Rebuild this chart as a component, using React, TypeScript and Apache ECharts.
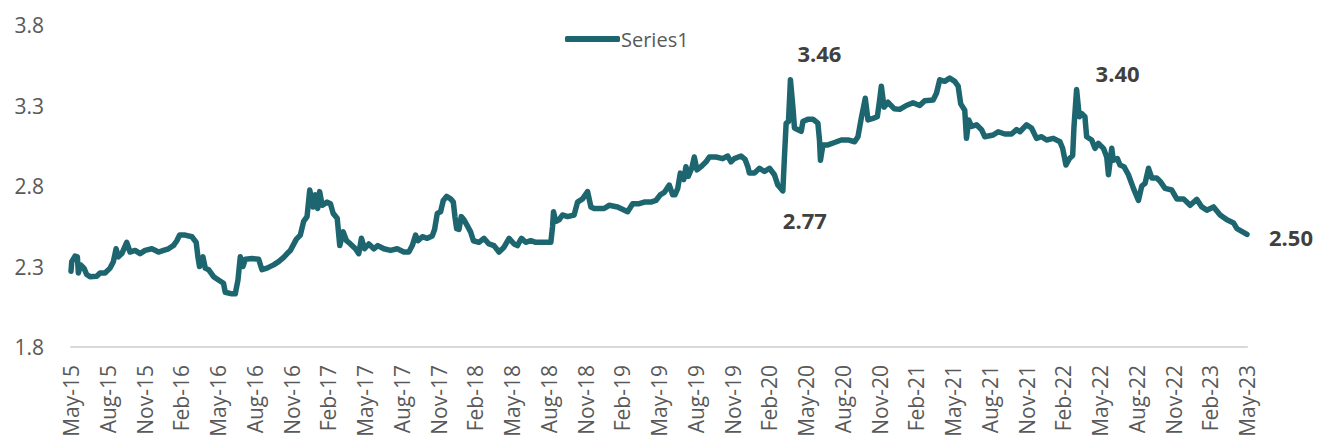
import React, { useEffect, useRef } from "react";
import * as echarts from "echarts";

// x = months since May-15, y = value
const seg2015: [number, number][] = [
  [0, 2.27], [0.06, 2.33], [0.33, 2.365], [0.52, 2.36], [0.6, 2.26], [0.79, 2.31], [1.06, 2.29], [1.28, 2.25],
  [1.55, 2.237], [2.1, 2.24], [2.37, 2.26], [2.78, 2.26], [3.19, 2.29], [3.46, 2.33], [3.68, 2.41], [3.87, 2.36],
  [4.15, 2.38], [4.55, 2.45], [4.82, 2.39], [5.23, 2.4], [5.64, 2.38], [6.05, 2.4], [6.6, 2.41], [7.14, 2.39],
  [7.55, 2.4], [7.96, 2.41],
];
const seg2016: [number, number][] = [
  [8.36, 2.43], [8.64, 2.46], [8.86, 2.495], [9.32, 2.495], [9.87, 2.485], [10.22, 2.45], [10.36, 2.36], [10.49, 2.3],
  [10.77, 2.36], [10.96, 2.29], [11.23, 2.28], [11.64, 2.237], [12.04, 2.216], [12.45, 2.196], [12.59, 2.14], [13.14, 2.13],
  [13.41, 2.13], [13.63, 2.216], [13.82, 2.36], [14.04, 2.3], [14.23, 2.345], [14.78, 2.35], [15.32, 2.345], [15.59, 2.28],
  [16.0, 2.29], [16.54, 2.31], [16.95, 2.33], [17.36, 2.357], [17.77, 2.39], [17.91, 2.4], [18.4, 2.47], [18.72, 2.495],
  [18.99, 2.58], [19.27, 2.61], [19.49, 2.775], [19.76, 2.67], [19.95, 2.745],
];
const seg2017: [number, number][] = [
  [20.14, 2.66], [20.3, 2.765], [20.5, 2.68], [20.91, 2.7], [21.18, 2.69], [21.4, 2.63], [21.73, 2.6], [21.94, 2.43],
  [22.22, 2.515], [22.49, 2.46], [22.81, 2.44], [23.22, 2.41], [23.49, 2.38], [23.71, 2.475], [23.96, 2.41], [24.31, 2.44],
  [24.72, 2.41], [25.04, 2.43], [25.54, 2.41], [26.08, 2.4], [26.63, 2.41], [27.17, 2.39], [27.58, 2.39], [27.86, 2.43],
  [28.13, 2.495], [28.32, 2.46], [28.68, 2.485], [29.08, 2.475], [29.49, 2.49], [29.68, 2.53], [29.9, 2.63], [30.17, 2.64],
  [30.39, 2.71], [30.66, 2.735], [30.99, 2.72], [31.21, 2.7], [31.34, 2.61], [31.48, 2.535], [31.67, 2.53], [31.86, 2.61],
];
const seg2018: [number, number][] = [
  [32.08, 2.59], [32.3, 2.56], [32.62, 2.515], [32.85, 2.46], [33.3, 2.45], [33.71, 2.475], [34.12, 2.44], [34.53, 2.43],
  [34.94, 2.39], [35.35, 2.42], [35.76, 2.475], [36.17, 2.44], [36.44, 2.43], [36.77, 2.475], [37.12, 2.45], [37.53, 2.46],
  [37.94, 2.45], [38.49, 2.45], [39.17, 2.45], [39.31, 2.547], [39.39, 2.64], [39.57, 2.58], [39.84, 2.59], [40.12, 2.62],
  [40.53, 2.61], [41.07, 2.62], [41.35, 2.7], [41.76, 2.72], [42.17, 2.765], [42.44, 2.67], [42.71, 2.66], [43.12, 2.66],
  [43.52, 2.66], [43.93, 2.68],
];
const seg2019: [number, number][] = [
  [44.62, 2.67], [45.44, 2.64], [45.85, 2.69], [46.39, 2.69], [46.8, 2.7], [47.34, 2.7], [47.75, 2.71], [48.1, 2.745],
  [48.43, 2.76], [48.84, 2.806], [49.12, 2.745], [49.3, 2.745], [49.53, 2.785], [49.74, 2.88], [50.02, 2.84], [50.2, 2.92],
  [50.39, 2.86], [50.67, 2.91], [50.88, 2.98], [51.1, 2.9], [51.43, 2.92], [51.84, 2.95], [52.11, 2.98], [52.66, 2.98],
  [53.2, 2.97], [53.61, 2.986], [53.88, 2.95], [54.15, 2.97], [54.7, 2.986], [55.03, 2.965], [55.25, 2.92], [55.38, 2.88],
  [55.79, 2.88],
];
const seg2020: [number, number][] = [
  [56.2, 2.91], [56.61, 2.89], [57.02, 2.91], [57.42, 2.87], [57.7, 2.806], [58.11, 2.77], [58.24, 2.98], [58.38, 3.19],
  [58.57, 3.2], [58.73, 3.46], [58.93, 3.29], [59.06, 3.16], [59.34, 3.15], [59.61, 3.14], [59.75, 3.2], [60.16, 3.215],
  [60.56, 3.215], [60.97, 3.19], [61.1, 3.086], [61.18, 2.96], [61.38, 3.055], [61.79, 3.055], [62.33, 3.07], [62.88, 3.086],
  [63.43, 3.086], [63.97, 3.075], [64.24, 3.106], [64.51, 3.22], [64.84, 3.345], [65.06, 3.21], [65.47, 3.22], [65.82, 3.23],
  [66.01, 3.334], [66.15, 3.42], [66.37, 3.29], [66.7, 3.32], [67.19, 3.28], [67.65, 3.276],
];
const seg2021: [number, number][] = [
  [68.19, 3.3], [68.74, 3.317], [69.28, 3.3], [69.69, 3.33], [70.38, 3.334], [70.65, 3.376], [70.92, 3.46], [71.32, 3.45],
  [71.73, 3.47], [72.14, 3.45], [72.42, 3.42], [72.63, 3.31], [72.96, 3.27], [73.1, 3.096], [73.29, 3.21], [73.51, 3.17],
  [73.92, 3.18], [74.33, 3.15], [74.59, 3.106], [75.28, 3.117], [75.69, 3.137], [76.23, 3.123], [76.78, 3.123], [77.19, 3.15],
  [77.46, 3.137], [78.0, 3.18], [78.41, 3.16], [78.82, 3.096], [79.23, 3.106], [79.64, 3.086],
];
const seg2022: [number, number][] = [
  [80.19, 3.096], [80.73, 3.075], [80.95, 3.034], [81.22, 2.93], [81.5, 2.97], [81.77, 2.99], [81.87, 3.16], [82.09, 3.4],
  [82.31, 3.23], [82.5, 3.25], [82.77, 3.23], [82.91, 3.106], [83.32, 3.086], [83.59, 3.034], [83.87, 3.065], [84.28, 3.034],
  [84.55, 2.98], [84.69, 2.87], [84.96, 3.034], [85.09, 2.96], [85.42, 2.97], [85.63, 2.93], [85.96, 2.92], [86.32, 2.87],
  [86.73, 2.785], [87.14, 2.71], [87.41, 2.8], [87.68, 2.817], [87.96, 2.91], [88.23, 2.85], [88.63, 2.85], [88.9, 2.83],
  [89.31, 2.785], [89.86, 2.775], [90.27, 2.72], [90.82, 2.72], [91.36, 2.68], [91.9, 2.717],
];
const seg2023: [number, number][] = [
  [92.31, 2.67], [92.72, 2.65], [93.27, 2.67], [93.81, 2.62], [94.36, 2.59], [94.91, 2.57], [95.18, 2.535], [96.0, 2.5],
];

const tickLabels = [
  "May-15", "Aug-15", "Nov-15", "Feb-16", "May-16", "Aug-16", "Nov-16", "Feb-17", "May-17", "Aug-17", "Nov-17",
  "Feb-18", "May-18", "Aug-18", "Nov-18", "Feb-19", "May-19", "Aug-19", "Nov-19", "Feb-20", "May-20", "Aug-20",
  "Nov-20", "Feb-21", "May-21", "Aug-21", "Nov-21", "Feb-22", "May-22", "Aug-22", "Nov-22", "Feb-23", "May-23",
];
const yTicks = [1.8, 2.3, 2.8, 3.3, 3.8];

// annotated points: [month, value]
const annotations: [number, number][] = [
  [58.73, 3.46],
  [58.11, 2.77],
  [82.09, 3.4],
  [96.0, 2.5],
];
const annotationOffsets: [number, number][] = [
  [29, -27],
  [22, 29],
  [41, -16],
  [44, 3],
];

const seriesData = [
  ...seg2015, ...seg2016, ...seg2017, ...seg2018, ...seg2019, ...seg2020, ...seg2021, ...seg2022, ...seg2023,
];

const LINE = "#1D6670";
const FONT = "'Open Sans', 'Noto Sans', sans-serif";

export default function App() {
  const ref = useRef<HTMLDivElement>(null);
  useEffect(() => {
    if (!ref.current) return;
    const chart = echarts.init(ref.current, undefined, { renderer: "svg" });
    chart.setOption({
      animation: false,
      backgroundColor: "#ffffff",
      textStyle: { fontFamily: FONT },
      grid: { left: 71, right: 70, top: 25, bottom: 97, containLabel: false },
      legend: {
        show: true,
        left: 560,
        top: 24,
        icon: "roundRect",
        itemWidth: 55,
        itemHeight: 6,
        itemGap: 10,
        textStyle: { color: "#595959", fontSize: 20, fontFamily: FONT, padding: [0, 0, 0, -4] },
        data: ["Series1"],
      },
      xAxis: {
        type: "value",
        min: 0,
        max: 96,
        interval: 3,
        axisLine: { show: true, lineStyle: { color: "#D9D9D9", width: 2 } },
        axisTick: { show: false },
        splitLine: { show: false },
        axisLabel: {
          rotate: 90,
          margin: 18,
          color: "#595959",
          fontSize: 21,
          fontFamily: FONT,
          formatter: (v: number) => tickLabels[Math.round(v / 3)] ?? "",
        },
      },
      yAxis: {
        type: "value",
        min: 1.8,
        max: 3.8,
        axisLine: { show: false },
        axisTick: { show: false },
        splitLine: { show: false },
        axisLabel: {
          customValues: yTicks,
          margin: 27,
          color: "#595959",
          fontSize: 21,
          fontFamily: FONT,
          formatter: (v: number) => v.toFixed(1),
        },
      },
      series: [
        {
          name: "Series1",
          type: "line",
          data: seriesData,
          showSymbol: false,
          symbol: "none",
          color: LINE,
          lineStyle: { color: LINE, width: 5.5, cap: "round", join: "round" },
          markPoint: {
            symbol: "circle",
            symbolSize: 0,
            silent: true,
            label: {
              show: true,
              color: "#404040",
              fontSize: 22,
              fontWeight: "bold",
              fontFamily: FONT,
            },
            data: annotations.map((p, i) => ({
              coord: p,
              value: p[1].toFixed(2),
              label: { offset: annotationOffsets[i], formatter: p[1].toFixed(2) },
            })),
          },
        },
      ],
    });
    return () => chart.dispose();
  }, []);
  return (
    <div
      ref={ref}
      style={{ position: "fixed", left: 0, top: 0, width: 1317, height: 444, background: "#fff" }}
    />
  );
}
